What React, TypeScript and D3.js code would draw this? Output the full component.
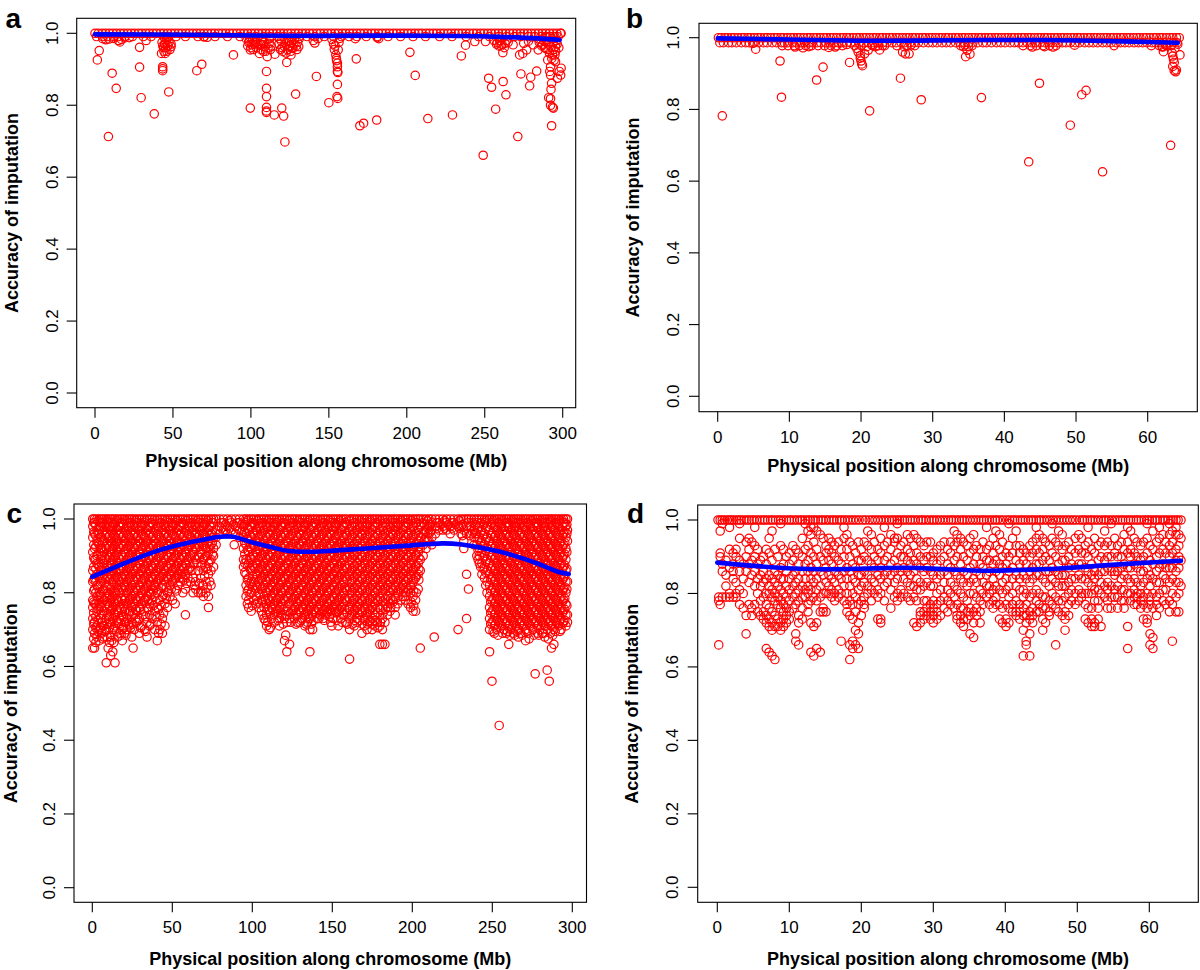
import React from "react";
import * as d3 from "d3";

// ---------- axis ticks ----------
const xTicksLong = [0, 50, 100, 150, 200, 250, 300];
const xTicksShort = [0, 10, 20, 30, 40, 50, 60];
const yTicks = [0, 0.2, 0.4, 0.6, 0.8, 1.0];

// ---------- panel a (positions in Mb, accuracy in %) ----------
const aTopPos = [0, 2.1, 4.6, 6.8, 9.1, 11.5, 13.8, 16.2, 18.5, 20.9, 23.2, 25.4, 27.9, 30.1, 32.6, 34.8, 37.2, 39.4, 41.9, 44.1, 46.5, 48.8, 51.2, 53.5, 55.8, 58.3, 60.5, 62.8, 65.2, 67.5, 69.9, 72.2, 74.6, 76.8, 79.3, 81.6, 83.9, 86.3, 88.5, 90.9, 93.2, 95.6, 97.9, 100.2, 102.6, 104.8, 107.2, 109.5, 111.9, 114.2, 116.6, 118.9, 121.1, 123.6, 125.8, 128.3, 130.5, 132.9, 135.2, 137.5, 139.8, 142.3, 144.5, 146.9, 149.2, 151.5, 153.9, 156.1, 158.6, 160.8, 163.2, 165.5, 167.9, 170.2, 172.6, 174.8, 177.3, 179.5, 181.9, 184.2, 186.6, 188.8, 191.3, 193.5, 195.9, 198.2, 200.6, 202.9, 205.2, 207.6, 209.8, 212.3, 214.5, 216.9, 219.2, 221.6, 223.8, 226.3, 228.5, 230.9, 233.2, 235.5, 237.9, 240.2, 242.6, 244.8, 247.3, 249.5, 251.9, 254.2, 256.6, 258.8, 261.2, 263.5, 265.9, 268.2, 270.5, 272.9, 275.2, 277.5, 279.8, 282.3, 284.5, 286.9, 289.2, 291.5, 293.8, 296.2, 298.5];
const aNearTopPos = [1, 5, 8, 12, 15, 19, 24, 31, 36, 44, 47, 52, 58, 66, 70, 77, 85, 93, 99, 103, 108, 112, 117, 121, 126, 131, 136, 141, 147, 153, 158, 163, 168, 174, 181, 188, 196, 204, 212, 221, 229, 238, 246, 253, 259, 264, 269, 273, 278, 282, 286, 289, 292, 295];
const aPoints = [
  [1.5, 92.6], [2.7, 95.2], [8.6, 71.3], [11, 88.9], [13.6, 84.7],
  [5, 98.5], [7, 98.2], [9, 98.4], [12, 98.6], [15, 98], [16, 97.6], [17, 98.3], [19, 98.7], [22, 98.8],
  [28.6, 96.1], [28.6, 90.6], [29.6, 82.1], [32.8, 98], [38, 77.6],
  [42.7, 94.4], [43.4, 90.7], [43.4, 90.1], [43.4, 89.6], [44, 96], [45, 94.4], [45.5, 97.5], [46, 98.3], [47.3, 83.7], [48.8, 96.3], [48.8, 97], [44.5, 98.8], [47, 99],
  [43, 97.5], [43.5, 96.5], [44.2, 95], [44.6, 97], [45.2, 96], [46.1, 95], [46.6, 96.5], [47.5, 97.5], [48.1, 95.5],
  [65.3, 89.6], [68.5, 91.4], [69.8, 99], [72, 98.9], [88.8, 94],
  [97, 98.5], [98.5, 97.5], [99.6, 79.2], [99.6, 95.4], [100.6, 96.8], [101, 98], [103, 97.5], [104, 98.5], [105.5, 94.4], [106, 97], [107.5, 98], [109.2, 96.3],
  [98, 96.5], [99, 97.8], [100, 96], [101.5, 95.5], [102, 97], [103.5, 96], [104.5, 97], [106.5, 95.5], [107, 96.8], [108, 95], [108.5, 97.5], [109.5, 95], [111, 96], [112.5, 95.5],
  [110, 89.4], [110, 84.7], [110, 82.4], [110, 79.4], [110, 78.4], [110, 78], [110.5, 93.5], [111.7, 97.2], [112, 98.5], [113, 96.5],
  [115.4, 94.2], [115, 77.3], [118, 97], [118.5, 98.5], [119.8, 79.2], [120, 96], [121, 77], [121.8, 69.8], [122, 97.5], [123, 91.9], [123.5, 95.5], [124, 98], [125, 96.5], [125.7, 94], [126, 97.5], [127, 95.8], [128, 98.3], [128.7, 83.1], [129, 96.5], [130.7, 96.3], [131, 98.5],
  [119, 95.5], [119.5, 97.8], [120.5, 95], [121.5, 96.3], [122.5, 94.5], [124.5, 96.5], [125.5, 95], [126.5, 96], [127.5, 97], [129.5, 95.5], [130, 97.5],
  [140, 98], [141, 97.3], [142, 88], [143, 98.5],
  [150, 80.7], [152, 98.3], [153, 97], [153.5, 95.5], [154, 96.5], [154.5, 94], [154.8, 93], [155, 92.4], [155.5, 91.7], [155.5, 90.7], [155.5, 89.4], [155.8, 89.1], [155.5, 85.8], [155.2, 82.4], [155.7, 81.9], [156, 95.4], [156.5, 97.5], [157, 98.6],
  [167.6, 92.9], [167, 98.5], [169.9, 74.3], [172.3, 75], [180.7, 75.9], [182, 98.5], [181, 98.8],
  [202, 94.7], [205.4, 88.3], [213.5, 76.3], [229.3, 77.3], [235, 93.7], [237.7, 96.7], [243.6, 97.7], [249, 66.1], [250.5, 97.7], [252.5, 87.5], [254.4, 85], [257, 78.9],
  [258, 97.5], [259, 96.5], [260, 98], [261, 97], [261.6, 94.6], [261.8, 86.6], [262.5, 96], [263.6, 82.9], [264, 98], [265, 97.5],
  [256, 98], [257.5, 97], [259.5, 98], [260.5, 96.5], [263, 97.2],
  [268.2, 96.8], [271.2, 71.3], [272.4, 94], [273.2, 88.7], [274.4, 94.4], [275, 97.2], [276.9, 95.4], [278, 97.8], [278.8, 85.4], [279.5, 87.8], [281, 96.8], [283.3, 89.5], [284.3, 95.4], [285, 97.5], [286, 98.3], [287, 96.8], [288, 97.8], [289, 95.8],
  [286.5, 96.5], [288.5, 96], [289.5, 97.5], [290.5, 95.5], [291.5, 94.5], [292.5, 96.2], [293, 93], [294.2, 95.5], [294.5, 92.5], [295.5, 95], [296.5, 97], [297.5, 96],
  [290.4, 92.6], [291, 97], [291.7, 89.4], [292.2, 90.7], [292.2, 88.4], [292.9, 86.1], [292.5, 84.4], [291, 82.1], [292.2, 81.8], [292.2, 80], [293.4, 79.5], [294, 79.2], [292.9, 74.3],
  [295.4, 92.1], [296.6, 87.5], [297.8, 89.4], [299, 90.3], [298.7, 88.4], [293.5, 94], [295, 94], [295.4, 96.3], [296, 98], [297, 99], [299, 100], [290, 99], [293, 98.5], [294, 97.5],
];
const aFit = [[0, 99.7], [62, 99.6], [124, 99.3], [186, 99.35], [235, 99.25], [260, 99.0], [284, 98.6], [298, 98.15]];

// ---------- panel b ----------
const bTopPos = [0.1, 0.5, 1.0, 1.4, 1.9, 2.3, 2.8, 3.3, 3.7, 4.2, 4.6, 5.1, 5.6, 6.0, 6.5, 6.9, 7.4, 7.9, 8.3, 8.8, 9.2, 9.7, 10.2, 10.6, 11.1, 11.5, 12.0, 12.5, 12.9, 13.4, 13.8, 14.3, 14.8, 15.2, 15.7, 16.1, 16.6, 17.1, 17.5, 18.0, 18.4, 18.9, 19.4, 19.8, 20.3, 20.7, 21.2, 21.7, 22.1, 22.6, 23.0, 23.5, 24.0, 24.4, 24.9, 25.3, 25.8, 26.3, 26.7, 27.2, 27.6, 28.1, 28.6, 29.0, 29.5, 29.9, 30.4, 30.9, 31.3, 31.8, 32.2, 32.7, 33.2, 33.6, 34.1, 34.5, 35.0, 35.5, 35.9, 36.4, 36.8, 37.3, 37.8, 38.2, 38.7, 39.1, 39.6, 40.1, 40.5, 41.0, 41.4, 41.9, 42.4, 42.8, 43.3, 43.7, 44.2, 44.7, 45.1, 45.6, 46.0, 46.5, 47.0, 47.4, 47.9, 48.3, 48.8, 49.3, 49.7, 50.2, 50.6, 51.1, 51.6, 52.0, 52.5, 52.9, 53.4, 53.9, 54.3, 54.8, 55.2, 55.7, 56.2, 56.6, 57.1, 57.5, 58.0, 58.5, 58.9, 59.4, 59.8, 60.3, 60.8, 61.2, 61.7, 62.1, 62.6, 63.1, 63.5, 64.0];
const bNearTopPos = [0.3, 0.8, 1.5, 2.0, 2.6, 3.3, 3.9, 4.4, 5.1, 5.7, 6.4, 6.9, 7.6, 8.2, 8.9, 9.3, 9.8, 10.5, 11.0, 11.6, 12.1, 12.7, 13.2, 13.9, 14.4, 15.1, 15.6, 16.2, 16.8, 17.3, 18.0, 18.6, 19.2, 19.7, 20.4, 21.0, 21.8, 22.3, 23.0, 23.6, 24.3, 24.9, 25.6, 26.1, 26.8, 27.4, 28.0, 28.7, 29.4, 30.0, 30.6, 31.3, 31.9, 32.5, 33.2, 33.8, 34.4, 35.0, 35.6, 36.3, 37.0, 37.5, 38.2, 38.9, 39.5, 40.1, 40.8, 41.4, 42.0, 42.6, 43.2, 43.8, 44.3, 45.0, 45.6, 46.2, 46.8, 47.5, 48.1, 48.6, 49.2, 49.9, 50.5, 51.2, 51.8, 52.4, 53.0, 53.7, 54.3, 54.9, 55.6, 56.2, 56.8, 57.4, 58.1, 58.7, 59.3, 59.9, 60.6, 61.1, 61.8, 62.3, 63.0, 63.6, 64.1];
const bLowPos = [9.0, 9.8, 10.7, 11.4, 12.3, 13.1, 14.0, 14.9, 15.8, 16.6, 17.4, 19.1, 20.0, 21.6, 22.4, 23.3, 25.0, 26.4, 27.5, 33.9, 35.5, 42.6, 43.6, 44.5, 45.4, 46.3, 47.2, 55.3, 60.5, 61.6, 62.6, 63.3];
const bPoints = [
  [0.64, 78.2], [4.9, 98.4], [5.3, 96.8], [8.7, 93.5], [8.9, 83.4], [10.8, 97.4], [11.9, 97.2], [12.7, 97.5], [13.8, 88.2], [14.7, 91.8], [15.5, 97.3], [16.4, 97.4], [18, 98.1], [18.4, 93.1],
  [19.4, 97], [19.6, 96], [19.9, 95], [19.9, 94.3], [20, 93.5], [20.1, 92.7], [20.2, 92.2], [20.5, 95.5], [20.8, 97.5], [21, 96.5], [21.2, 79.6], [21.5, 98], [22, 97.5], [22.6, 96.6], [23, 97.8],
  [25.5, 88.7], [25.8, 96], [26.2, 95.5], [26.7, 95.5], [26, 97.5], [27, 98],
  [28.4, 82.7], [34.3, 97.5], [34.5, 98], [34.6, 94.7], [34.8, 96.5], [35.2, 95.4], [35, 97.5], [36.8, 83.3],
  [43.4, 65.4], [43.9, 97.4], [44.9, 87.3], [45.6, 97.5], [46.8, 97.4], [49.2, 75.6], [49.8, 97.9], [50.8, 84.1], [51.4, 85.3], [53.7, 62.6],
  [62, 97.5], [62.1, 97.4], [62.2, 96.1], [62.5, 98], [63.2, 70], [63.4, 95.8], [63.5, 94.9], [63.6, 94], [63.7, 93.1], [63.5, 92], [63.7, 90.8], [63.9, 90.5], [64, 91], [64.5, 95.2], [64.4, 100], [63.8, 97], [64.2, 98.2],
];
const bFit = [[0, 99.8], [10, 99.5], [21, 99.15], [37, 99.35], [48, 99.3], [58, 98.9], [64.2, 98.6]];

// ---------- panel c: [position Mb, accuracy % ...] ----------
const cColumns = [
  [0.3, 100, 98, 95, 91, 86, 83, 78, 76, 73, 70, 65], [1.4, 100, 99, 96, 92, 89, 84, 81, 77, 72, 69, 65], [2.9, 100, 97, 94, 90, 88, 85, 82, 79, 75, 71, 68],
  [4.3, 100, 98, 96, 93, 87, 84, 80, 77, 74, 70, 67], [5.8, 100, 99, 95, 92, 90, 86, 83, 79, 76, 72, 69], [7.2, 100, 97, 94, 91, 88, 85, 81, 78, 75, 71, 68],
  [8.7, 100, 98, 96, 92, 89, 86, 82, 79, 73, 70, 61], [9.9, 100, 99, 95, 93, 90, 87, 84, 80, 77, 74, 65], [11.5, 100, 97, 94, 91, 88, 85, 81, 78, 75, 72, 68, 63],
  [12.8, 100, 98, 96, 92, 89, 86, 83, 79, 76, 73, 70, 64], [14.2, 100, 99, 95, 93, 90, 87, 84, 80, 77, 74, 71, 61], [15.7, 100, 97, 94, 91, 88, 84, 81, 78, 75, 72, 68],
  [17.2, 100, 98, 96, 92, 89, 86, 83, 80, 76, 73, 69], [18.7, 100, 99, 95, 93, 90, 87, 84, 81, 78, 74, 70, 67], [20.2, 100, 97, 94, 91, 88, 85, 82, 78, 75, 72, 69],
  [21.7, 100, 98, 96, 92, 89, 86, 83, 80, 77, 73, 70], [23.2, 100, 99, 95, 93, 90, 87, 84, 81, 78, 75, 71], [24.7, 100, 97, 94, 91, 88, 85, 82, 79, 76, 72, 68],
  [25.5, 65], [26.2, 100, 98, 96, 92, 89, 86, 83, 80, 77, 74, 70], [27.8, 100, 99, 95, 93, 90, 87, 84, 81, 78, 75, 72],
  [29.4, 100, 97, 94, 91, 88, 85, 82, 79, 76, 73, 69], [31.0, 100, 98, 96, 92, 89, 86, 83, 80, 77, 71], [32.6, 100, 99, 95, 93, 90, 87, 84, 81, 78, 75, 70],
  [34.2, 100, 97, 94, 91, 88, 85, 82, 79, 76, 72, 68], [35.8, 100, 98, 96, 92, 89, 86, 83, 80, 77, 74, 71], [37.4, 100, 99, 95, 93, 90, 87, 84, 81, 78, 73],
  [39.0, 100, 97, 94, 91, 88, 85, 82, 79, 75, 70], [40.6, 100, 98, 96, 92, 89, 86, 83, 80, 76, 72, 67], [42.2, 100, 99, 95, 93, 90, 87, 84, 78, 74, 70],
  [43.8, 100, 97, 94, 91, 88, 85, 82, 79, 73, 69], [45.4, 100, 98, 96, 92, 89, 86, 83, 77, 71], [47.0, 100, 99, 95, 93, 90, 87, 84, 80, 76],
  [48.6, 100, 97, 94, 91, 88, 85, 82, 79], [50.2, 100, 98, 96, 92, 89, 86, 83, 78], [51.8, 100, 99, 95, 93, 90, 87, 84, 81, 77],
  [53.4, 100, 97, 94, 91, 88, 85, 82], [55.0, 100, 98, 96, 92, 89, 86, 83], [56.6, 100, 99, 95, 93, 90, 87, 84, 80],
  [58.2, 100, 97, 94, 91, 88, 85, 81, 74], [59.8, 100, 98, 96, 92, 89, 86, 84], [61.4, 100, 99, 95, 93, 90, 87, 83],
  [63.0, 100, 97, 94, 91, 88, 84, 80], [64.6, 100, 98, 96, 92, 89, 83, 81], [66.2, 100, 99, 95, 93, 90, 86, 80],
  [67.8, 100, 97, 94, 91, 87, 84, 80], [69.4, 100, 98, 96, 93, 89, 86, 82, 79], [71.0, 100, 99, 95, 92, 90, 87, 83, 80],
  [72.6, 100, 97, 94, 91, 88, 85, 79, 76], [74.2, 100, 98, 96, 93, 89, 86, 82], [75.8, 100, 99, 95, 92, 90, 87],
  [77.4, 100, 97, 95, 93], [79.5, 100, 98, 96], [82.0, 100, 99, 97], [84.5, 100, 98, 96], [87.0, 100, 99, 97], [88.7, 93],
  [89.5, 100, 98, 96], [92.0, 100, 99, 97, 95], [94.5, 100, 98, 95, 92, 89, 87],
  [96.1, 100, 99, 96, 93, 89, 85, 82, 79], [97.7, 100, 97, 94, 91, 88, 84, 81, 78, 76], [99.3, 100, 98, 95, 92, 89, 86, 83, 80, 75],
  [100.9, 100, 99, 96, 93, 90, 87, 83, 78], [102.5, 100, 97, 94, 91, 88, 85, 82, 79, 77], [104.1, 100, 98, 95, 92, 89, 86, 83, 80, 76],
  [105.7, 100, 99, 96, 93, 90, 87, 84, 81, 78, 75], [107.3, 100, 97, 94, 91, 88, 85, 82, 79, 76, 73], [108.9, 100, 98, 95, 92, 89, 86, 83, 80, 77, 74, 71],
  [110.5, 100, 99, 96, 93, 90, 87, 84, 81, 78, 75, 70], [112.1, 100, 97, 94, 91, 88, 85, 82, 79, 76, 73], [113.7, 100, 98, 95, 92, 89, 86, 83, 80, 77, 74, 72],
  [115.3, 100, 99, 96, 93, 90, 87, 84, 81, 78, 75], [116.9, 100, 97, 94, 91, 88, 85, 82, 79, 76, 73, 71], [118.5, 100, 98, 95, 92, 89, 86, 83, 80, 77, 74],
  [120.1, 100, 99, 96, 93, 90, 87, 84, 81, 78, 73, 67], [121.6, 100, 97, 94, 91, 88, 85, 82, 79, 75, 72, 64], [123.3, 100, 98, 95, 92, 89, 86, 83, 80, 77, 73, 66],
  [124.9, 100, 99, 96, 93, 90, 87, 84, 81, 78, 75], [126.5, 100, 97, 94, 91, 88, 85, 82, 79, 76, 73], [128.1, 100, 98, 95, 92, 89, 86, 83, 80, 77, 74, 72],
  [129.7, 100, 99, 96, 93, 90, 87, 84, 81, 78, 75, 72], [131.3, 100, 97, 94, 91, 88, 85, 82, 79, 76, 73], [132.9, 100, 98, 95, 92, 89, 86, 83, 80, 77, 74, 71],
  [134.5, 100, 99, 96, 93, 90, 87, 84, 81, 78, 75, 72], [136.0, 100, 97, 94, 91, 88, 85, 82, 79, 76, 73, 70, 64], [137.7, 100, 98, 95, 92, 89, 86, 83, 80, 77, 74, 70],
  [139.3, 100, 99, 96, 93, 90, 87, 84, 81, 78, 75], [140.9, 100, 97, 94, 91, 88, 85, 82, 79, 76, 73], [142.5, 100, 98, 95, 92, 89, 86, 83, 80, 77, 74],
  [144.1, 100, 99, 96, 93, 90, 87, 84, 81, 78, 75, 73], [145.7, 100, 97, 94, 91, 88, 85, 82, 79, 76, 74], [147.3, 100, 98, 95, 92, 89, 86, 83, 80, 77, 75],
  [148.9, 100, 99, 96, 93, 90, 87, 84, 81, 78, 75, 72], [150.5, 100, 97, 94, 91, 88, 85, 82, 79, 76, 73], [152.1, 100, 98, 95, 92, 89, 86, 83, 80, 77, 75],
  [153.7, 100, 99, 96, 93, 90, 87, 84, 81, 78, 75, 71], [155.3, 100, 97, 94, 91, 88, 85, 82, 79, 76, 73], [156.9, 100, 98, 95, 92, 89, 86, 83, 80, 77, 74],
  [158.5, 100, 99, 96, 93, 90, 87, 84, 81, 78, 72], [160.8, 100, 97, 94, 90, 85, 81, 76, 70, 62], [162.1, 100, 98, 95, 92, 89, 86, 83, 80, 77, 74],
  [163.7, 100, 99, 96, 93, 90, 87, 84, 81, 78, 75, 71], [165.3, 100, 97, 94, 91, 88, 85, 82, 79, 76, 73, 72], [166.9, 100, 98, 95, 92, 89, 86, 83, 80, 77, 74],
  [168.5, 100, 99, 96, 93, 90, 87, 84, 81, 78, 75, 69], [170.1, 100, 97, 94, 91, 88, 85, 82, 79, 76, 73, 71], [171.7, 100, 98, 95, 92, 89, 86, 83, 80, 77, 74, 70],
  [173.3, 100, 99, 96, 93, 90, 87, 84, 81, 78, 75, 72], [174.9, 100, 97, 94, 91, 88, 85, 82, 79, 76, 73, 70], [176.5, 100, 98, 95, 92, 89, 86, 83, 80, 77, 74, 71],
  [178.1, 100, 99, 96, 93, 90, 87, 84, 81, 78, 72], [179.7, 100, 97, 94, 91, 88, 85, 82, 79, 76, 71, 66], [181.3, 100, 98, 95, 92, 89, 86, 83, 80, 73, 70, 66],
  [182.9, 100, 99, 96, 93, 90, 87, 84, 81, 77, 72, 66], [184.5, 100, 97, 94, 91, 88, 85, 82, 79, 76, 74], [186.1, 100, 98, 95, 92, 89, 86, 83, 80, 77, 75],
  [187.7, 100, 99, 96, 93, 90, 87, 84, 81, 78], [189.3, 100, 97, 94, 91, 88, 85, 82, 79, 76, 74], [190.9, 100, 98, 95, 92, 89, 86, 83, 80, 77],
  [192.5, 100, 99, 96, 93, 90, 87, 84, 81], [194.1, 100, 97, 94, 91, 88, 85, 82, 79], [195.7, 100, 98, 95, 92, 89, 86, 83, 80, 78],
  [197.3, 100, 99, 96, 93, 90, 87, 84, 81, 77], [198.9, 100, 97, 94, 91, 88, 85, 82, 80, 76], [200.5, 100, 98, 95, 92, 89, 86, 83, 79, 75],
  [202.1, 100, 99, 96, 93, 90, 87, 84, 78, 75], [203.7, 100, 97, 94, 91, 88, 85, 81], [205.0, 100, 98, 95, 92, 89, 86, 65],
  [206.8, 100, 99, 96, 93, 90], [208.6, 100, 97, 95, 92], [210.4, 100, 98, 96, 94], [212.2, 100, 99, 97, 95, 93], [213.7, 68],
  [214.5, 100, 98, 96], [216.8, 100, 99, 97], [219.1, 100, 98, 97], [221.4, 100, 99, 97], [223.7, 100, 98, 96], [226.0, 100, 99, 97],
  [228.6, 100, 98, 70], [230.5, 100, 98, 96], [232.2, 100, 97, 94, 92], [233.9, 100, 98, 96, 85, 73], [235.1, 100, 99, 81],
  [236.8, 100, 98, 96], [238.6, 100, 97, 95, 93], [240.3, 100, 99, 96, 93, 90], [241.9, 100, 98, 95, 92, 90, 88],
  [243.5, 100, 97, 94, 91, 88, 85], [245.1, 100, 99, 96, 93, 90, 87, 84], [246.7, 100, 98, 95, 92, 89, 86, 83, 80],
  [248.3, 100, 97, 94, 91, 88, 85, 82, 79, 76, 73, 70, 64], [249.8, 100, 99, 96, 93, 90, 87, 84, 81, 78, 75, 72, 56], [251.3, 100, 98, 95, 92, 89, 86, 83, 80, 77, 74, 71, 69],
  [252.8, 100, 97, 94, 91, 88, 85, 82, 79, 76, 73, 70], [254.3, 100, 99, 96, 93, 90, 87, 84, 81, 78, 75, 72, 44], [255.8, 100, 98, 95, 92, 89, 86, 83, 80, 77, 74, 71],
  [257.3, 100, 97, 94, 91, 88, 85, 82, 79, 76, 73, 70], [258.8, 100, 99, 96, 93, 90, 87, 84, 81, 78, 75, 72, 69], [260.3, 100, 98, 95, 92, 89, 86, 83, 80, 77, 74, 71, 66],
  [261.8, 100, 97, 94, 91, 88, 85, 82, 79, 76, 73, 70], [263.3, 100, 99, 96, 93, 90, 87, 84, 81, 78, 75, 72, 69], [264.8, 100, 98, 95, 92, 89, 86, 83, 80, 77, 74, 71],
  [266.3, 100, 97, 94, 91, 88, 85, 82, 79, 76, 73, 70, 68], [267.8, 100, 99, 96, 93, 90, 87, 84, 81, 78, 75, 72, 69], [269.3, 100, 98, 95, 92, 89, 86, 83, 80, 77, 74, 71],
  [270.8, 100, 97, 94, 91, 88, 85, 82, 79, 76, 73, 70, 67], [272.3, 100, 99, 96, 93, 90, 87, 84, 81, 78, 75, 72, 69], [273.8, 100, 98, 95, 92, 89, 86, 83, 80, 77, 74, 71],
  [275.3, 100, 97, 94, 91, 88, 85, 82, 79, 76, 73, 70], [276.8, 100, 99, 96, 93, 90, 87, 84, 81, 78, 75, 72, 58], [278.3, 100, 98, 95, 92, 89, 86, 83, 80, 77, 74, 71, 69],
  [279.8, 100, 97, 94, 91, 88, 85, 82, 79, 76, 73, 70], [281.3, 100, 99, 96, 93, 90, 87, 84, 81, 78, 75, 72, 69], [282.8, 100, 98, 95, 92, 89, 86, 83, 80, 77, 74, 71, 68],
  [284.3, 100, 97, 94, 91, 88, 85, 82, 79, 76, 73, 70, 59], [285.6, 100, 99, 96, 93, 90, 87, 84, 81, 78, 75, 72, 56], [287.0, 100, 98, 95, 92, 89, 86, 83, 80, 77, 74, 71, 65],
  [288.5, 100, 97, 94, 91, 88, 85, 82, 79, 76, 73, 70, 66], [290.0, 100, 99, 96, 93, 90, 87, 84, 81, 78, 75, 72], [291.5, 100, 98, 95, 92, 89, 86, 83, 80, 77, 74, 71],
  [293.0, 100, 97, 94, 91, 88, 85, 82, 79, 76, 73, 70], [294.5, 100, 99, 96, 93, 90, 87, 84, 81, 78, 75, 72], [296.0, 100, 98, 95, 92, 89, 86, 83, 80, 77, 74, 71],
  [297.0, 100, 97, 94, 83, 74, 72],
];
// panel c, SNPs lying between the columns above
const cColumns2 = [
  [0.9, 99, 96.5, 93, 89.5, 87, 83.5, 80.5, 77.5, 74.5, 71.5, 67.5], [2.2, 98.5, 95.5, 92.5, 89, 86.5, 83, 80, 77, 73.5, 70.5, 66.5],
  [3.6, 99.5, 96, 93.5, 90.5, 87.5, 84.5, 81.5, 78, 75.5, 72.5, 69.5], [5.1, 98, 95, 92, 89, 86, 82.5, 79.5, 76.5, 73, 70.5],
  [6.5, 99, 96.5, 93.5, 90, 87, 84, 80.5, 77.5, 74, 71, 67.5], [8.0, 98.5, 95.5, 92.5, 89.5, 86.5, 83.5, 80.5, 76.5, 72.5, 69.5],
  [9.3, 99.5, 96.5, 93.5, 90.5, 87.5, 84.5, 81.5, 78.5, 75.5, 71.5, 68], [10.7, 98, 95.5, 92.5, 89.5, 86.5, 83.5, 79.5, 76.5, 73.5, 70.5, 66.5],
  [12.2, 99, 96.5, 93.5, 90.5, 87.5, 84.5, 81.5, 78.5, 75.5, 71.5, 67], [13.5, 98.5, 95.5, 92.5, 89.5, 86.5, 83.5, 80.5, 77.5, 74.5, 70.5, 66.5],
  [15.0, 99.5, 96.5, 93.5, 90.5, 87.5, 84.5, 81.5, 78.5, 75.5, 72.5, 69.5], [16.5, 98, 95.5, 92.5, 89.5, 86.5, 83.5, 80.5, 77.5, 74.5, 71.5],
  [18.0, 99, 96.5, 93.5, 90.5, 87.5, 84.5, 81.5, 78.5, 75.5, 72.5, 68.5], [19.5, 98.5, 95.5, 92.5, 89.5, 86.5, 83.5, 80.5, 77, 73.5, 70.5],
  [21.0, 99.5, 96.5, 93.5, 90.5, 87.5, 84.5, 81.5, 78.5, 75.5, 72, 68.5], [22.5, 98, 95.5, 92.5, 89.5, 86.5, 83.5, 80.5, 77.5, 74.5, 71.5],
  [24.0, 99, 96.5, 93.5, 90.5, 87.5, 84.5, 81.5, 78.5, 75, 70.5],
  [25.4, 98.5, 95.5, 92.5, 89.5, 86.5, 83.5, 80.5, 77.5, 74.5, 71.5], [27.0, 99.5, 96.5, 93.5, 90.5, 87.5, 84.5, 81.5, 78.5, 75.5, 73],
  [28.6, 98, 95.5, 92.5, 89.5, 86.5, 83.5, 80.5, 77.5, 72.5], [30.2, 99, 96.5, 93.5, 90.5, 87.5, 84.5, 81.5, 78.5, 75.5, 70.5],
  [31.8, 98.5, 95.5, 92.5, 89.5, 86.5, 83.5, 80.5, 77.5, 74], [33.4, 99.5, 96.5, 93.5, 90.5, 87.5, 84.5, 81.5, 78.5, 73.5, 69.5],
  [35.0, 98, 95.5, 92.5, 89.5, 86.5, 83.5, 80.5, 78, 75.5], [36.6, 99, 96.5, 93.5, 90.5, 87.5, 84.5, 82, 79.5, 71.5],
  [38.2, 98.5, 95.5, 92.5, 89.5, 86.5, 83.5, 80.5, 76.5], [39.8, 99.5, 96.5, 93.5, 90.5, 87.5, 84.5, 81.5, 77.5, 73.5],
  [41.4, 98, 95.5, 92.5, 89.5, 86.5, 83.5, 80.5, 75.5, 69], [43.0, 99, 96.5, 93.5, 90.5, 87.5, 84.5, 81.5, 76.5, 71.5],
  [44.6, 98.5, 95.5, 92.5, 89.5, 86.5, 83.5, 79.5, 74.5], [46.2, 99.5, 96.5, 93.5, 90.5, 87.5, 84.5, 81.5, 78.5],
  [47.8, 98, 95.5, 92.5, 89.5, 86.5, 83.5, 80.5],
  [49.4, 99, 96.5, 93.5, 90.5, 87.5, 84.5, 81], [51.0, 98.5, 95.5, 92.5, 89.5, 86.5, 83.5], [52.6, 99.5, 96.5, 93.5, 90.5, 87.5, 84.5, 80.5],
  [54.2, 98, 95.5, 92.5, 89.5, 86.5, 84], [55.8, 99, 96.5, 93.5, 90.5, 87.5, 85], [57.4, 98.5, 95.5, 92.5, 89.5, 86.5, 83.5],
  [59.0, 99.5, 96.5, 93.5, 90.5, 87.5, 82.5], [60.6, 98, 95.5, 92.5, 89.5, 86.5], [62.2, 99, 96.5, 93.5, 90.5, 86],
  [63.8, 98.5, 95.5, 92.5, 89.5, 82], [65.4, 99.5, 96.5, 93.5, 88], [67.0, 98, 95.5, 92.5, 89.5, 82.5],
  [68.6, 99, 96.5, 93.5, 90.5, 87.5, 80.5], [70.2, 98.5, 95.5, 92.5, 89.5, 84.5], [71.8, 99.5, 96.5, 93.5, 90, 86.5, 81.5],
  [73.4, 98, 95.5, 92.5, 88.5, 83], [75.0, 99, 96.5, 93.5, 90.5],
  [80.7, 99, 97.5], [83.2, 98.5, 97], [85.7, 99.5, 97.5], [88.2, 98.5], [90.7, 99, 97.5], [93.2, 98.5, 96.5],
  [95.3, 98.5, 96.5, 93.5, 90.5, 88, 85.5], [96.9, 99.5, 97.5, 94.5, 91.5, 87.5, 83.5, 80.5, 77], [98.5, 98, 95.5, 92.5, 89.5, 86.5, 82.5, 79.5],
  [100.1, 99, 96.5, 93.5, 90.5, 87.5, 84.5, 81.5, 76.5], [101.7, 98.5, 95.5, 92.5, 89.5, 86.5, 83.5, 80.5], [103.3, 99.5, 96.5, 93.5, 90.5, 87.5, 84.5, 81.5, 77.5],
  [104.9, 98, 95.5, 92.5, 89.5, 86.5, 83.5, 79.5], [106.5, 99, 96.5, 93.5, 90.5, 87.5, 84.5, 81.5, 77.5, 74], [108.1, 98.5, 95.5, 92.5, 89.5, 86.5, 83.5, 80.5, 78, 72.5],
  [109.7, 99.5, 96.5, 93.5, 90.5, 87.5, 84.5, 81.5, 78.5, 75.5, 72], [111.3, 98, 95.5, 92.5, 89.5, 86.5, 83.5, 80.5, 77.5, 74.5, 70.5], [112.9, 99, 96.5, 93.5, 90.5, 87.5, 84.5, 81.5, 78.5, 75.5],
  [114.5, 98.5, 95.5, 92.5, 89.5, 86.5, 83.5, 80.5, 77.5, 74.5], [116.1, 99.5, 96.5, 93.5, 90.5, 87.5, 84.5, 81.5, 78.5, 75.5, 72.5], [117.7, 98, 95.5, 92.5, 89.5, 86.5, 83.5, 80.5, 77.5, 74.5],
  [119.3, 99, 96.5, 93.5, 90.5, 87.5, 84.5, 81.5, 78.5, 75.5, 71.5], [120.9, 98.5, 95.5, 92.5, 89.5, 86.5, 83.5, 80.5, 77.5, 74, 68.5], [122.5, 99.5, 96.5, 93.5, 90.5, 87.5, 84.5, 81.5, 78.5, 75],
  [124.1, 98, 95.5, 92.5, 89.5, 86.5, 83.5, 80.5, 77.5, 74.5, 72], [125.7, 99, 96.5, 93.5, 90.5, 87.5, 84.5, 81.5, 78.5, 75.5], [127.3, 98.5, 95.5, 92.5, 89.5, 86.5, 83.5, 80.5, 77.5, 74.5, 71.5],
  [128.9, 99.5, 96.5, 93.5, 90.5, 87.5, 84.5, 81.5, 78.5, 75.5], [130.5, 98, 95.5, 92.5, 89.5, 86.5, 83.5, 80.5, 77.5, 74.5, 72.5], [132.1, 99, 96.5, 93.5, 90.5, 87.5, 84.5, 81.5, 78.5, 75.5],
  [133.7, 98.5, 95.5, 92.5, 89.5, 86.5, 83.5, 80.5, 77.5, 74.5, 71.5], [135.3, 99.5, 96.5, 93.5, 90.5, 87.5, 84.5, 81.5, 78.5, 75.5, 73], [136.9, 98, 95.5, 92.5, 89.5, 86.5, 83.5, 80.5, 77.5, 74.5, 71.5],
  [138.5, 99, 96.5, 93.5, 90.5, 87.5, 84.5, 81.5, 78.5, 75.5, 72.5], [140.1, 98.5, 95.5, 92.5, 89.5, 86.5, 83.5, 80.5, 77.5, 74.5], [141.7, 99.5, 96.5, 93.5, 90.5, 87.5, 84.5, 81.5, 78.5, 75.5, 73],
  [143.3, 98, 95.5, 92.5, 89.5, 86.5, 83.5, 80.5, 77.5, 74.5], [144.9, 99, 96.5, 93.5, 90.5, 87.5, 84.5, 81.5, 78.5, 75.5, 72.5], [146.5, 98.5, 95.5, 92.5, 89.5, 86.5, 83.5, 80.5, 77.5, 74.5],
  [148.1, 99.5, 96.5, 93.5, 90.5, 87.5, 84.5, 81.5, 78.5, 75.5, 73.5], [149.7, 98, 95.5, 92.5, 89.5, 86.5, 83.5, 80.5, 77.5, 74.5, 71], [151.3, 99, 96.5, 93.5, 90.5, 87.5, 84.5, 81.5, 78.5, 75.5],
  [152.9, 98.5, 95.5, 92.5, 89.5, 86.5, 83.5, 80.5, 77.5, 74.5, 72.5], [154.5, 99.5, 96.5, 93.5, 90.5, 87.5, 84.5, 81.5, 78.5, 75.5], [156.1, 98, 95.5, 92.5, 89.5, 86.5, 83.5, 80.5, 77.5, 74.5, 72],
  [157.7, 99, 96.5, 93.5, 90.5, 87.5, 84.5, 81.5, 78.5, 75.5], [159.3, 98.5, 95.5, 92.5, 89.5, 86.5, 83.5, 80.5, 77.5, 74.5, 71.5], [160.9, 99.5, 96.5, 93.5, 90.5, 87.5, 84.5, 81.5, 78.5, 75.5, 73],
  [162.5, 98, 95.5, 92.5, 89.5, 86.5, 83.5, 80.5, 77.5, 74.5, 71.5], [164.1, 99, 96.5, 93.5, 90.5, 87.5, 84.5, 81.5, 78.5, 75.5, 72.5], [165.7, 98.5, 95.5, 92.5, 89.5, 86.5, 83.5, 80.5, 77.5, 74.5],
  [167.3, 99.5, 96.5, 93.5, 90.5, 87.5, 84.5, 81.5, 78.5, 75.5, 72.5], [168.9, 98, 95.5, 92.5, 89.5, 86.5, 83.5, 80.5, 77.5, 74.5, 71.5], [170.5, 99, 96.5, 93.5, 90.5, 87.5, 84.5, 81.5, 78.5, 75.5, 72.5],
  [172.1, 98.5, 95.5, 92.5, 89.5, 86.5, 83.5, 80.5, 77.5, 74.5, 71.5], [173.7, 99.5, 96.5, 93.5, 90.5, 87.5, 84.5, 81.5, 78.5, 75.5, 72.5], [175.3, 98, 95.5, 92.5, 89.5, 86.5, 83.5, 80.5, 77.5, 74.5, 71.5],
  [176.9, 99, 96.5, 93.5, 90.5, 87.5, 84.5, 81.5, 78.5, 75.5, 72.5], [178.5, 98.5, 95.5, 92.5, 89.5, 86.5, 83.5, 80.5, 77.5, 74.5, 70.5], [180.1, 99.5, 96.5, 93.5, 90.5, 87.5, 84.5, 81.5, 78.5, 75.5, 72],
  [181.7, 98, 95.5, 92.5, 89.5, 86.5, 83.5, 80.5, 77.5, 74.5], [183.3, 99, 96.5, 93.5, 90.5, 87.5, 84.5, 81.5, 78.5, 75.5], [184.9, 98.5, 95.5, 92.5, 89.5, 86.5, 83.5, 80.5, 77.5],
  [186.5, 99.5, 96.5, 93.5, 90.5, 87.5, 84.5, 81.5, 78.5, 76], [188.1, 98, 95.5, 92.5, 89.5, 86.5, 83.5, 80.5, 77.5], [189.7, 99, 96.5, 93.5, 90.5, 87.5, 84.5, 81.5, 78.5],
  [191.3, 98.5, 95.5, 92.5, 89.5, 86.5, 83.5, 80.5], [192.9, 99.5, 96.5, 93.5, 90.5, 87.5, 84.5, 81.5, 78], [194.5, 98, 95.5, 92.5, 89.5, 86.5, 83.5, 80.5],
  [196.1, 99, 96.5, 93.5, 90.5, 87.5, 84.5, 81.5, 79], [197.7, 98.5, 95.5, 92.5, 89.5, 86.5, 83.5, 80.5], [199.3, 99.5, 96.5, 93.5, 90.5, 87.5, 84.5, 81.5, 77.5],
  [200.9, 98, 95.5, 92.5, 89.5, 86.5, 83.5, 80.5, 76.5], [202.5, 99, 96.5, 93.5, 90.5, 87.5, 84.5, 80], [204.1, 98.5, 95.5, 92.5, 89.5, 86.5, 83.5],
  [207.7, 98.5, 96.5, 94.5], [209.5, 99.5, 97.5, 94], [211.3, 98.5, 96.5], [215.6, 99, 97.5], [217.9, 98.5], [220.2, 99.5, 97.5], [222.5, 98.5],
  [224.8, 99, 97.5], [227.1, 98.5], [229.4, 99.5, 97.5], [231.3, 98.5, 95.5], [235.9, 98, 95.5], [237.7, 99, 96.5], [239.5, 98.5, 96],
  [241.1, 97.5, 94.5, 91.5, 89], [242.7, 99, 96.5, 93.5, 87], [244.3, 98.5, 95.5, 92.5, 89.5, 86.5], [245.9, 99.5, 97.5, 94.5, 91.5, 88.5, 85.5, 82],
  [249.0, 98.5, 95.5, 92.5, 89.5, 86.5, 83.5, 80.5, 77.5, 74.5, 71.5], [250.5, 99.5, 96.5, 93.5, 90.5, 87.5, 84.5, 81.5, 78.5, 75.5, 72.5, 69.5],
  [252.0, 98, 95.5, 92.5, 89.5, 86.5, 83.5, 80.5, 77.5, 74.5, 71.5], [253.5, 99, 96.5, 93.5, 90.5, 87.5, 84.5, 81.5, 78.5, 75.5, 72.5, 68.5],
  [255.0, 98.5, 95.5, 92.5, 89.5, 86.5, 83.5, 80.5, 77.5, 74.5, 71.5], [256.5, 99.5, 96.5, 93.5, 90.5, 87.5, 84.5, 81.5, 78.5, 75.5, 72.5, 69],
  [258.0, 98, 95.5, 92.5, 89.5, 86.5, 83.5, 80.5, 77.5, 74.5, 71.5], [259.5, 99, 96.5, 93.5, 90.5, 87.5, 84.5, 81.5, 78.5, 75.5, 72.5, 69.5],
  [261.0, 98.5, 95.5, 92.5, 89.5, 86.5, 83.5, 80.5, 77.5, 74.5, 71.5, 68.5], [262.5, 99.5, 96.5, 93.5, 90.5, 87.5, 84.5, 81.5, 78.5, 75.5, 72.5],
  [264.0, 98, 95.5, 92.5, 89.5, 86.5, 83.5, 80.5, 77.5, 74.5, 71.5, 68.5], [265.5, 99, 96.5, 93.5, 90.5, 87.5, 84.5, 81.5, 78.5, 75.5, 72.5, 69.5],
  [267.0, 98.5, 95.5, 92.5, 89.5, 86.5, 83.5, 80.5, 77.5, 74.5, 71.5], [268.5, 99.5, 96.5, 93.5, 90.5, 87.5, 84.5, 81.5, 78.5, 75.5, 72.5, 68.5],
  [270.0, 98, 95.5, 92.5, 89.5, 86.5, 83.5, 80.5, 77.5, 74.5, 71.5], [271.5, 99, 96.5, 93.5, 90.5, 87.5, 84.5, 81.5, 78.5, 75.5, 72.5, 69.5],
  [273.0, 98.5, 95.5, 92.5, 89.5, 86.5, 83.5, 80.5, 77.5, 74.5, 71.5, 67.5], [274.5, 99.5, 96.5, 93.5, 90.5, 87.5, 84.5, 81.5, 78.5, 75.5, 72.5],
  [276.0, 98, 95.5, 92.5, 89.5, 86.5, 83.5, 80.5, 77.5, 74.5, 71.5, 68.5], [277.5, 99, 96.5, 93.5, 90.5, 87.5, 84.5, 81.5, 78.5, 75.5, 72.5],
  [279.0, 98.5, 95.5, 92.5, 89.5, 86.5, 83.5, 80.5, 77.5, 74.5, 71.5, 68.5], [280.5, 99.5, 96.5, 93.5, 90.5, 87.5, 84.5, 81.5, 78.5, 75.5, 72.5],
  [282.0, 98, 95.5, 92.5, 89.5, 86.5, 83.5, 80.5, 77.5, 74.5, 71.5, 69], [283.5, 99, 96.5, 93.5, 90.5, 87.5, 84.5, 81.5, 78.5, 75.5, 72.5],
  [285.0, 98.5, 95.5, 92.5, 89.5, 86.5, 83.5, 80.5, 77.5, 74.5, 71.5, 67.5], [286.3, 99.5, 96.5, 93.5, 90.5, 87.5, 84.5, 81.5, 78.5, 75.5, 72.5, 69],
  [287.8, 98, 95.5, 92.5, 89.5, 86.5, 83.5, 80.5, 77.5, 74.5, 71.5, 68.5], [289.3, 99, 96.5, 93.5, 90.5, 87.5, 84.5, 81.5, 78.5, 75.5, 72.5, 69.5],
  [290.8, 98.5, 95.5, 92.5, 89.5, 86.5, 83.5, 80.5, 77.5, 74.5, 71.5], [292.3, 99.5, 96.5, 93.5, 90.5, 87.5, 84.5, 81.5, 78.5, 75.5, 72.5, 69.5],
  [293.8, 98, 95.5, 92.5, 89.5, 86.5, 83.5, 80.5, 77.5, 74.5, 71.5], [295.3, 99, 96.5, 93.5, 90.5, 87.5, 84.5, 81.5, 78.5, 75.5, 72.5],
  [296.6, 98.5, 96, 91, 86.5, 81, 76.5],
];
const cFit = [[0, 84.3], [14.7, 87], [38.7, 91.1], [62.7, 93.8], [80, 95.2], [88, 95.2], [98.8, 93.8], [110.8, 92.5], [122.8, 91.3], [134.9, 91.1], [146.9, 91.3], [171, 92], [195, 92.7], [219, 93.4], [231, 93.1], [243, 92.2], [255, 91.1], [267, 89.6], [279, 87.8], [291, 85.7], [297.8, 85.1]];

// ---------- panel d ----------
const dTopPos = [0.1, 0.4, 0.7, 1.0, 1.4, 1.7, 2.0, 2.3, 2.7, 3.0, 3.3, 3.7, 4.1, 4.4, 4.8, 5.1, 5.5, 5.9, 6.3, 6.6, 7.0, 7.4, 7.7, 8.1, 8.5, 8.8, 9.2, 9.6, 10.0, 10.3, 10.7, 11.1, 11.5, 11.8, 12.2, 12.6, 12.9, 13.3, 13.6, 14.0, 14.4, 14.7, 15.1, 15.5, 15.9, 16.2, 16.6, 17.0, 17.3, 17.7, 18.1, 18.5, 18.9, 19.3, 19.7, 20.2, 20.6, 21.1, 21.5, 21.9, 22.3, 22.7, 23.1, 23.5, 23.9, 24.3, 24.6, 25.0, 25.3, 25.7, 26.0, 26.4, 26.8, 27.1, 27.5, 27.9, 28.3, 28.6, 29.0, 29.4, 29.8, 30.1, 30.5, 30.9, 31.3, 31.7, 32.1, 32.5, 32.8, 33.2, 33.6, 34.0, 34.3, 34.7, 35.1, 35.5, 35.9, 36.3, 36.7, 37.0, 37.4, 37.8, 38.2, 38.6, 38.9, 39.3, 39.7, 40.2, 40.6, 41.0, 41.3, 41.7, 42.1, 42.4, 42.8, 43.2, 43.6, 43.9, 44.3, 44.7, 45.0, 45.4, 45.8, 46.2, 46.6, 47.0, 47.4, 47.8, 48.2, 48.6, 49.0, 49.4, 49.8, 50.3, 50.7, 51.0, 51.4, 51.8, 52.1, 52.5, 52.9, 53.3, 53.7, 54.0, 54.4, 54.8, 55.2, 55.6, 56.0, 56.3, 56.7, 57.1, 57.4, 57.8, 58.2, 58.5, 58.9, 59.3, 59.7, 60.0, 60.4, 60.8, 61.1, 61.5, 61.9, 62.2, 62.6, 63.0, 63.3, 63.7, 64.0, 64.4];
const dColumns = [
  [0.2, 79, 78, 66], [0.4, 97, 91, 90, 77], [0.7, 99, 88, 86, 79], [1.2, 89, 85, 82, 79], [1.7, 98, 92, 87, 80, 79], [2.2, 91, 88, 86, 84, 79],
  [2.6, 92, 90, 83, 80, 79], [3.1, 99, 95, 89, 86, 81, 77], [3.6, 88, 84, 80, 76], [4.0, 94, 90, 86, 74, 69], [4.4, 95, 92, 88, 83, 77],
  [4.8, 94, 89, 85, 76, 74], [5.2, 98, 93, 90, 86, 82, 77], [5.6, 92, 88, 84, 80, 75], [6.0, 89, 85, 82, 78, 74], [6.4, 90, 86, 83, 79, 75, 73],
  [6.8, 92, 88, 84, 80, 77, 74, 72, 65], [7.2, 95, 91, 85, 82, 80, 76, 73, 71, 64], [7.6, 97, 89, 84, 81, 79, 75, 72, 70, 63], [8.0, 92, 86, 83, 80, 78, 74, 71, 62],
  [8.4, 90, 85, 82, 79, 77, 73, 71], [8.8, 99, 93, 87, 84, 81, 78, 76, 72, 70], [9.2, 92, 88, 84, 80, 77, 75, 73, 71], [9.6, 90, 86, 82, 79, 76, 74, 72],
  [10.0, 91, 88, 84, 81, 78, 75, 73], [10.5, 93, 89, 85, 82, 79, 76], [10.9, 92, 86, 83, 80, 77, 69, 67], [11.3, 91, 88, 84, 81, 78, 74, 72, 66],
  [11.8, 95, 90, 86, 82, 79, 76, 73], [12.2, 99, 92, 88, 84, 81, 79], [12.6, 97, 93, 89, 86, 82, 80, 77, 75], [13.0, 98, 96, 91, 87, 84, 81, 78, 72, 64],
  [13.4, 98, 94, 90, 86, 83, 79, 71, 63], [13.8, 97, 92, 88, 84, 81, 78, 72, 65], [14.3, 96, 90, 86, 82, 79, 75, 64], [14.7, 95, 89, 85, 80, 76, 75],
  [15.1, 93, 91, 87, 83, 80, 75], [15.5, 95, 92, 89, 85, 82, 80], [15.9, 94, 91, 88, 84, 81, 79], [16.3, 93, 90, 86, 83, 80, 78],
  [16.8, 94, 89, 85, 81, 79], [17.2, 92, 88, 84, 80, 67], [17.6, 98, 95, 90, 86, 82, 78], [18.0, 96, 92, 87, 84, 80, 77, 75],
  [18.4, 94, 90, 86, 82, 78, 74, 66, 62], [18.8, 93, 88, 84, 80, 77, 73, 67, 65], [19.2, 91, 87, 83, 79, 75, 70, 66], [19.6, 94, 89, 85, 81, 77, 72, 69, 65],
  [20.0, 92, 89, 85, 82, 78, 74], [20.4, 94, 90, 86, 83, 79, 77, 76], [20.9, 97, 93, 89, 85, 82, 80], [21.4, 96, 92, 88, 84, 81, 78],
  [21.8, 94, 90, 87, 83, 80], [22.3, 92, 89, 85, 81, 79, 73], [22.7, 95, 91, 87, 84, 80, 73, 72], [23.2, 98, 93, 89, 85, 82, 78],
  [23.6, 94, 90, 86, 83], [24.1, 96, 92, 88, 85, 81, 76], [24.6, 95, 94, 89, 86, 83, 79], [25.0, 99, 95, 91, 87, 84, 80, 78],
  [25.5, 93, 90, 86, 81, 79], [25.9, 94, 90, 87, 84, 80], [26.4, 96, 92, 89, 86, 83, 79], [26.8, 95, 91, 88, 85, 82, 78],
  [27.3, 96, 93, 89, 86, 82, 79, 72], [27.7, 95, 91, 88, 84, 81, 78, 71], [28.2, 94, 90, 87, 83, 81, 75, 74, 72], [28.7, 93, 89, 86, 82, 78, 75, 73],
  [29.1, 94, 90, 87, 83, 78, 76, 74], [29.6, 94, 90, 86, 82, 77, 75, 73], [30.0, 91, 89, 85, 82, 78, 76, 74, 72], [30.5, 92, 88, 84, 80, 77, 75, 73],
  [31.0, 93, 89, 85, 81, 78, 74], [31.5, 94, 90, 86, 83, 79, 76], [32.0, 92, 88, 85, 81, 78, 75], [32.4, 94, 91, 87, 83, 80, 77],
  [32.9, 97, 93, 89, 86, 82, 79, 76], [33.3, 96, 94, 90, 85, 81, 77, 74, 73], [33.8, 95, 92, 88, 84, 80, 76, 74, 72], [34.2, 94, 90, 86, 83, 79, 76, 73, 71],
  [34.7, 93, 89, 85, 82, 78, 75, 73], [35.1, 95, 91, 87, 83, 80, 76, 74, 69], [35.6, 96, 92, 88, 84, 80, 75, 72, 68], [36.0, 93, 90, 86, 83, 79, 76, 74],
  [36.5, 92, 88, 85, 81, 78, 75, 72], [36.9, 94, 90, 87, 83, 80, 77], [37.4, 98, 92, 89, 85, 82, 79], [37.8, 93, 89, 86, 82, 80, 77],
  [38.3, 95, 91, 88, 84, 81, 78, 76], [38.7, 97, 93, 89, 86, 82, 79, 77], [39.2, 96, 92, 88, 85, 81, 77, 73], [39.6, 94, 90, 87, 83, 80, 76, 72],
  [40.1, 91, 88, 84, 81, 77, 73, 71], [40.5, 99, 93, 90, 86, 82, 79, 76, 72], [41.0, 95, 91, 87, 84, 80, 77, 75], [41.5, 97, 93, 89, 85, 82, 78, 75, 74],
  [42.0, 93, 91, 88, 84, 81, 77, 75, 73], [42.5, 92, 89, 85, 81, 79, 76, 74, 70, 63], [42.9, 91, 88, 84, 80, 77, 74, 72, 67, 66], [43.4, 93, 90, 86, 83, 79, 75, 73, 69, 63],
  [43.8, 94, 91, 87, 84, 80, 76, 74, 72], [44.3, 98, 95, 92, 88, 85, 81, 78, 75], [44.7, 96, 91, 88, 85, 80, 77, 75], [45.2, 95, 92, 89, 84, 79, 76, 73, 70],
  [45.6, 94, 90, 86, 83, 79, 76, 72], [46.1, 93, 89, 86, 82, 78, 75, 74], [46.5, 99, 95, 91, 87, 84, 80, 77], [47.0, 94, 90, 86, 83, 79, 76, 66],
  [47.4, 97, 93, 88, 85, 82, 78, 75], [47.9, 96, 92, 89, 85, 82, 78, 74], [48.3, 93, 89, 85, 82, 79, 75, 73, 70], [48.8, 94, 90, 87, 83, 80, 77, 74],
  [49.2, 92, 88, 84, 81, 78], [49.7, 95, 91, 87, 84, 80, 77], [50.2, 96, 92, 88, 85, 81, 78], [50.6, 95, 91, 88, 84, 80, 79],
  [51.1, 93, 91, 87, 84, 80, 77, 73], [51.5, 98, 94, 90, 86, 83, 80, 76, 72], [52.0, 92, 88, 85, 82, 80, 76, 73, 71], [52.4, 95, 91, 86, 84, 81, 78, 72, 71],
  [52.9, 93, 89, 85, 81, 78, 76, 73], [53.3, 94, 90, 86, 83, 80, 71], [53.8, 97, 93, 89, 86, 82, 79], [54.2, 94, 90, 87, 83, 81, 78, 76],
  [54.7, 99, 93, 90, 86, 82, 79, 76], [55.2, 95, 91, 86, 85, 81, 79], [55.6, 93, 90, 86, 82, 79, 76], [56.1, 94, 90, 87, 84, 81, 78],
  [56.5, 96, 92, 88, 85, 81, 78, 76], [57.0, 98, 94, 91, 87, 84, 80, 71, 65], [57.4, 97, 92, 90, 87, 83, 80, 78], [57.9, 95, 91, 88, 84, 81, 79, 77],
  [58.3, 94, 90, 87, 83, 80, 79, 77], [58.8, 93, 89, 86, 82, 80, 78, 76], [59.2, 94, 90, 86, 83, 79, 77, 73], [59.7, 99, 95, 91, 87, 84, 80, 76, 73, 72],
  [60.1, 93, 89, 85, 82, 79, 77, 69, 66], [60.5, 97, 92, 88, 84, 80, 76, 68, 65], [61.0, 94, 90, 86, 83, 79, 77, 74], [61.4, 98, 95, 91, 87, 83, 80, 76],
  [61.9, 96, 92, 88, 85, 81, 78], [62.3, 94, 91, 87, 84, 81, 77], [62.8, 99, 96, 93, 90, 87, 83, 78, 75], [63.2, 97, 94, 91, 87, 84, 80, 77, 67],
  [63.7, 98, 96, 92, 89, 86, 83, 79, 75], [64.1, 96, 93, 90, 87, 83, 80, 75], [64.4, 95, 89, 82],
];
const dFit = [[0, 88.4], [5.2, 87.5], [10.5, 86.8], [15.8, 86.6], [21, 86.8], [26.3, 87], [31.6, 86.6], [36.9, 86.2], [42.2, 86.4], [47.5, 86.8], [52.7, 87.5], [58, 88.2], [64.4, 88.9]];

// ---------- helpers ----------
const fromTop = (pos: number[], acc: number) => pos.map((p) => [p, acc]);
const fromColumns = (cols: number[][]) => cols.flatMap(([x, ...vals]) => vals.map((v) => [x, v]));

const FONT = "'Liberation Sans', Arial, Helvetica, sans-serif";

type PanelSpec = {
  letter: string;
  letterXY: [number, number];
  box: { l: number; r: number; t: number; b: number };
  xTicks: number[];
  xDomain: [number, number];
  xRange: [number, number];
  yRange: [number, number];
  points: number[][];
  fit: number[][];
  yLabOff: number;
  yTitleOff: number;
  xTitleOff: number;
};

function Panel({ s }: { s: PanelSpec }) {
  const x = d3.scaleLinear().domain(s.xDomain).range(s.xRange);
  const y = d3.scaleLinear().domain([0, 1]).range(s.yRange);
  const line = d3
    .line<number[]>()
    .x((d) => x(d[0]))
    .y((d) => y(d[1] / 100))
    .curve(d3.curveCatmullRom.alpha(0.5));
  const { box } = s;
  const midX = (box.l + box.r) / 2;
  const midY = (box.t + box.b) / 2;
  return (
    <g>
      <g>
        {s.points.map((p, i) => (
          <circle key={i} cx={x(p[0])} cy={y(p[1] / 100)} r={4.2} fill="none" stroke="#FF0000" strokeWidth={1.2} />
        ))}
      </g>
      <path d={line(s.fit) || ""} fill="none" stroke="#0000FF" strokeWidth={4.6} strokeLinecap="round" strokeLinejoin="round" />
      <rect x={box.l} y={box.t} width={box.r - box.l} height={box.b - box.t} fill="none" stroke="#000" strokeWidth={1.1} />
      {s.xTicks.map((t) => (
        <g key={"x" + t}>
          <line x1={x(t)} x2={x(t)} y1={box.b} y2={box.b + 10} stroke="#000" strokeWidth={1.1} />
          <text x={x(t)} y={box.b + 31} fontSize={17} textAnchor="middle" fontFamily={FONT} fill="#000">
            {t}
          </text>
        </g>
      ))}
      {yTicks.map((t) => (
        <g key={"y" + t}>
          <line x1={box.l - 10} x2={box.l} y1={y(t)} y2={y(t)} stroke="#000" strokeWidth={1.1} />
          <text
            transform={`translate(${box.l - s.yLabOff},${y(t)}) rotate(-90)`}
            fontSize={17}
            textAnchor="middle"
            fontFamily={FONT}
            fill="#000"
          >
            {t.toFixed(1)}
          </text>
        </g>
      ))}
      <text x={midX} y={box.b + s.xTitleOff} fontSize={18} fontWeight="bold" textAnchor="middle" fontFamily={FONT} fill="#000">
        Physical position along chromosome (Mb)
      </text>
      <text
        transform={`translate(${box.l - s.yTitleOff},${midY}) rotate(-90)`}
        fontSize={18}
        fontWeight="bold"
        textAnchor="middle"
        fontFamily={FONT}
        fill="#000"
      >
        Accuracy of imputation
      </text>
      <text x={s.letterXY[0]} y={s.letterXY[1]} fontSize={28} fontWeight="bold" fontFamily={FONT} fill="#000">
        {s.letter}
      </text>
    </g>
  );
}

export default function App() {
  const panels: PanelSpec[] = [
    {
      letter: "a",
      letterXY: [5.5, 28],
      box: { l: 76.7, r: 575.7, t: 18.3, b: 407.7 },
      xTicks: xTicksLong,
      xDomain: [0, 300],
      xRange: [95, 562.7],
      yRange: [393, 33.3],
      points: [...fromTop(aTopPos, 100), ...fromTop(aNearTopPos, 99.1), ...aPoints],
      fit: aFit,
      yLabOff: 19,
      yTitleOff: 58.5,
      xTitleOff: 59,
    },
    {
      letter: "b",
      letterXY: [626, 28],
      box: { l: 699, r: 1197.3, t: 23.3, b: 411.7 },
      xTicks: xTicksShort,
      xDomain: [0, 60],
      xRange: [717.7, 1147.7],
      yRange: [396.3, 37.7],
      points: [...fromTop(bTopPos, 100), ...fromTop(bNearTopPos, 98.6), ...fromTop(bLowPos, 97.8), ...bPoints],
      fit: bFit,
      yLabOff: 20.5,
      yTitleOff: 60.5,
      xTitleOff: 60,
    },
    {
      letter: "c",
      letterXY: [6.5, 523],
      box: { l: 74, r: 586.5, t: 504, b: 902.3 },
      xTicks: xTicksLong,
      xDomain: [0, 300],
      xRange: [92.3, 572.3],
      yRange: [887.7, 519],
      points: [...fromColumns(cColumns), ...fromColumns(cColumns2)],
      fit: cFit,
      yLabOff: 19,
      yTitleOff: 57.5,
      xTitleOff: 63,
    },
    {
      letter: "d",
      letterXY: [627, 523],
      box: { l: 697.7, r: 1198.3, t: 505, b: 902.3 },
      xTicks: xTicksShort,
      xDomain: [0, 60],
      xRange: [717.3, 1149.3],
      yRange: [887.3, 520],
      points: [...fromTop(dTopPos, 100), ...fromColumns(dColumns)],
      fit: dFit,
      yLabOff: 19.5,
      yTitleOff: 60,
      xTitleOff: 63,
    },
  ];
  return (
    <svg
      width={1200}
      height={970}
      viewBox="0 0 1200 970"
      style={{ position: "absolute", left: 0, top: 0, background: "#fff" }}
    >
      <rect x={0} y={0} width={1200} height={970} fill="#fff" />
      {panels.map((p) => (
        <Panel key={p.letter} s={p} />
      ))}
    </svg>
  );
}
